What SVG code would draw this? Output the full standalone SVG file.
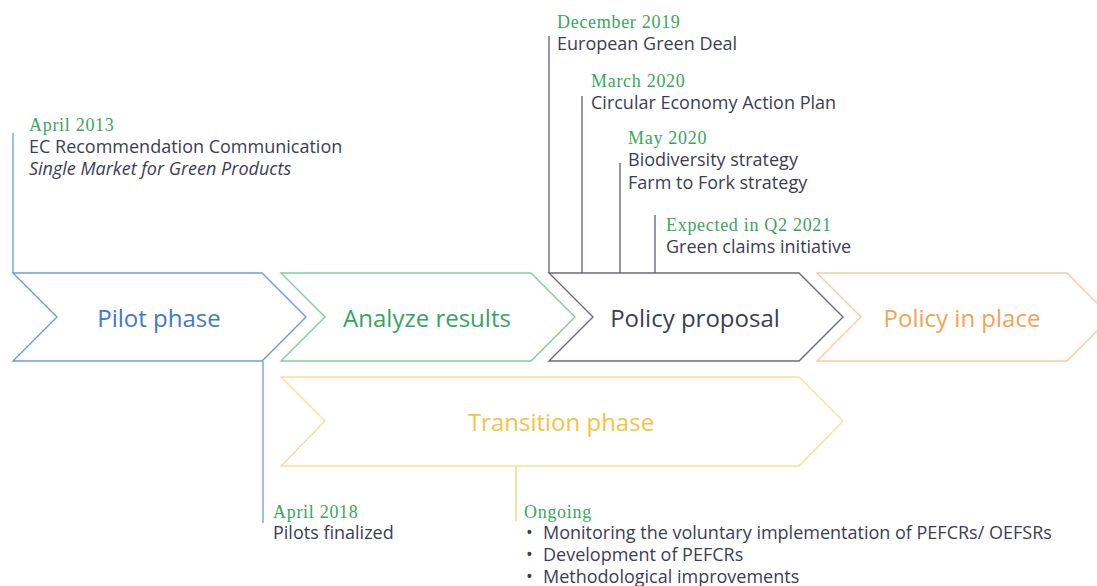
<svg xmlns="http://www.w3.org/2000/svg" width="1097" height="586" viewBox="0 0 1097 586">
<style>
.chev{fill:#ffffff;stroke-width:1.4;stroke-linejoin:miter}
.lbl{font-family:"Open Sans","Liberation Sans",sans-serif;font-size:24px;text-anchor:middle;dominant-baseline:central}
.date{font-family:"Liberation Serif","DejaVu Serif",serif;font-size:18px;letter-spacing:0.7px;fill:#3aa65e}
.txt{font-family:"Open Sans","Liberation Sans",sans-serif;font-size:18px;fill:#3c3e50}
.ln{fill:none;stroke-width:1.3}
</style>
<rect width="1097" height="586" fill="#ffffff"/>
<g id="connectors">
<line class="ln" x1="13" y1="133" x2="13" y2="273" stroke="#6d9be0"/>
<line class="ln" x1="263" y1="361" x2="263" y2="523" stroke="#6d9be0"/>
<line class="ln" x1="516" y1="466" x2="516" y2="521" stroke="#f5cf6a"/>
<line class="ln" x1="549" y1="36" x2="549" y2="273" stroke="#5e5f70"/>
<line class="ln" x1="582" y1="96" x2="582" y2="273" stroke="#5e5f70"/>
<line class="ln" x1="620" y1="163" x2="620" y2="273" stroke="#5e5f70"/>
<line class="ln" x1="655" y1="215" x2="655" y2="273" stroke="#5e5f70"/>
</g>
<g id="pilot">
<polygon class="chev" stroke="#6d9be0" points="13,273 262,273 306,317 262,361 13,361 57,317"/>
<text class="lbl" x="159" y="317" fill="#3f78cf">Pilot phase</text>
</g>
<g id="analyze">
<polygon class="chev" stroke="#7fcf9c" points="281,273 531,273 575,317 531,361 281,361 325,317"/>
<text class="lbl" x="427" y="317" fill="#35a463">Analyze results</text>
</g>
<g id="proposal">
<polygon class="chev" stroke="#6a6b7c" points="549,273 799,273 843,317 799,361 549,361 593,317"/>
<text class="lbl" x="695" y="317" fill="#3c3e52">Policy proposal</text>
</g>
<g id="inplace">
<polygon class="chev" stroke="#f8caa2" points="817,273 1067,273 1111,317 1067,361 817,361 861,317"/>
<text class="lbl" x="962" y="317" fill="#f0a458">Policy in place</text>
</g>
<g id="transition">
<polygon class="chev" stroke="#f7df94" points="281,377 799,377 843,421 799,466 281,466 325,421"/>
<text class="lbl" x="561" y="421" fill="#f4c443">Transition phase</text>
</g>
<g id="note-2013">
<text class="date" x="29" y="131">April 2013</text>
<text class="txt" x="29" y="153">EC Recommendation Communication</text>
<text class="txt" x="29" y="175" font-style="italic">Single Market for Green Products</text>
</g>
<g id="note-2019">
<text class="date" x="557" y="28">December 2019</text>
<text class="txt" x="557" y="50">European Green Deal</text>
</g>
<g id="note-mar2020">
<text class="date" x="591" y="87">March 2020</text>
<text class="txt" x="591" y="109">Circular Economy Action Plan</text>
</g>
<g id="note-may2020">
<text class="date" x="628" y="144">May 2020</text>
<text class="txt" x="628" y="166">Biodiversity strategy</text>
<text class="txt" x="628" y="189">Farm to Fork strategy</text>
</g>
<g id="note-2021">
<text class="date" x="666" y="231">Expected in Q2 2021</text>
<text class="txt" x="666" y="253">Green claims initiative</text>
</g>
<g id="note-2018">
<text class="date" x="273" y="518">April 2018</text>
<text class="txt" x="273" y="539">Pilots finalized</text>
</g>
<g id="note-ongoing">
<text class="date" x="524" y="518">Ongoing</text>
<text class="txt" x="526" y="539">•</text>
<text class="txt" x="543" y="539">Monitoring the voluntary implementation of PEFCRs/ OEFSRs</text>
<text class="txt" x="526" y="561">•</text>
<text class="txt" x="543" y="561">Development of PEFCRs</text>
<text class="txt" x="526" y="583">•</text>
<text class="txt" x="543" y="583">Methodological improvements</text>
</g>
</svg>
